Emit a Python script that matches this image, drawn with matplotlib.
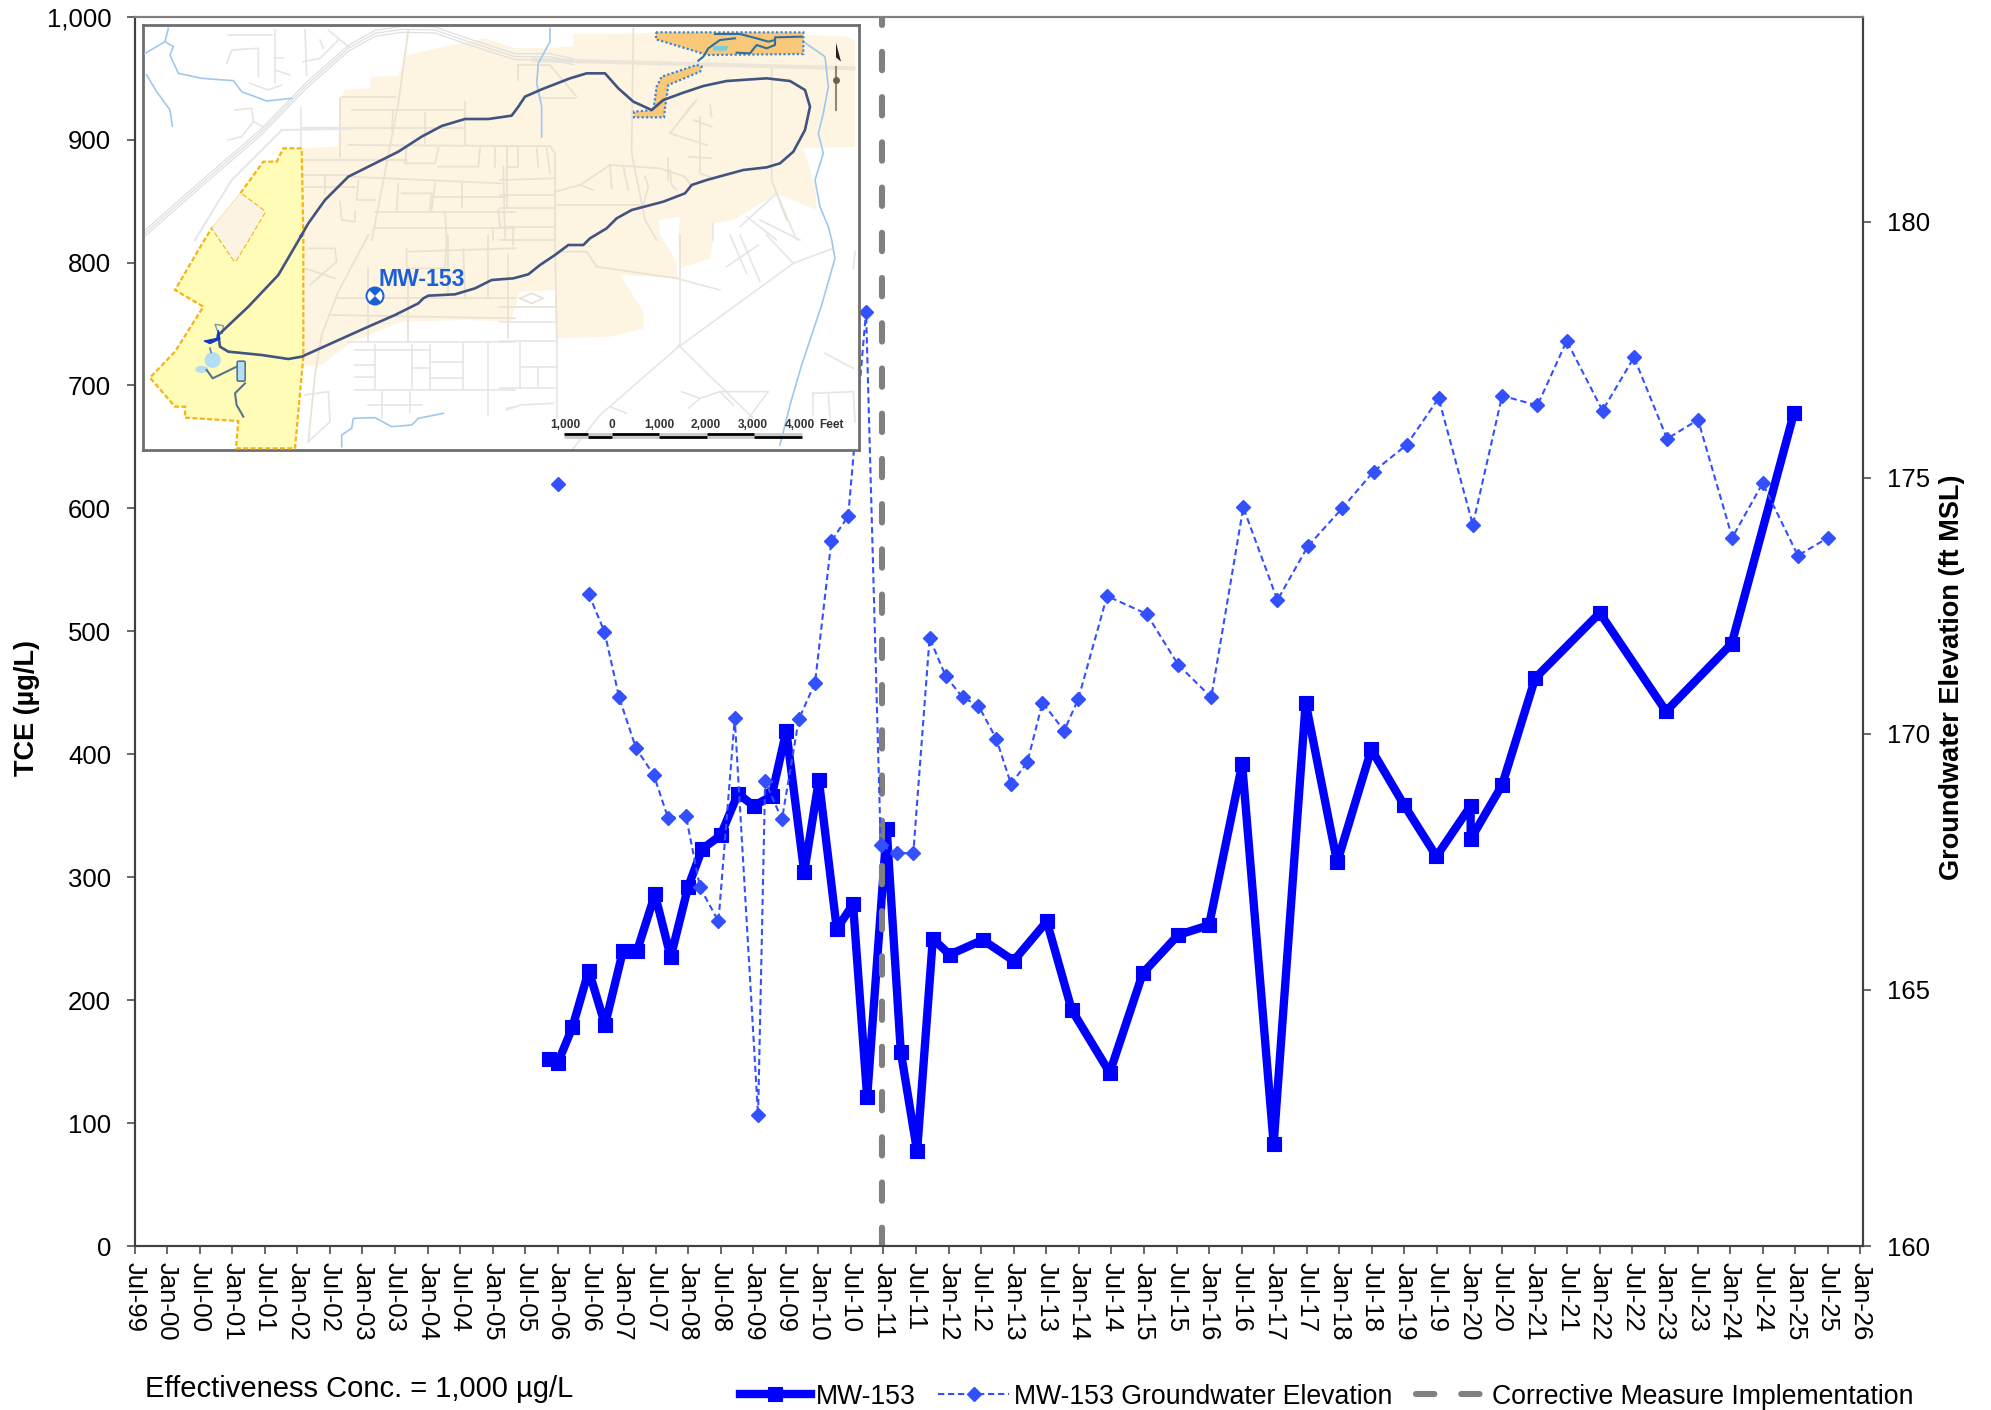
import matplotlib
matplotlib.use("Agg")
import matplotlib.pyplot as plt
from matplotlib.patches import Polygon, Ellipse, Wedge, Rectangle, FancyBboxPatch
from matplotlib.lines import Line2D

plt.rcParams['font.family'] = ['Liberation Sans', 'DejaVu Sans']

# ---------- chart data (x = months after Jul-1999) ----------
tce_months = [76.3, 78, 80.7, 83.7, 86.7, 90, 92.6, 95.9, 98.8, 102, 104.6, 108, 111.2, 114.1, 117.4,
              120.1, 123.4, 126.1, 129.4, 132.4, 135, 138.6, 141.2, 144.2, 147.1, 150.2, 156.3, 162, 168.1,
              172.7, 179.7, 185.8, 192.3, 198, 204.1, 209.9, 215.8, 221.6, 227.9, 233.9, 239.9,
              246.2, 246.2, 252, 258.1, 270, 282.2, 294.3, 305.8]
tce_values = [152, 149, 178, 224, 180, 240, 240, 286, 235, 292, 323, 334, 368, 358, 366,
              419, 304, 379, 258, 278, 121, 339, 158, 77, 250, 237, 249, 232, 264,
              192, 141, 222, 253, 261, 392, 83, 442, 312, 404, 359, 317,
              358, 331, 375, 462, 515, 435, 490, 678]

gw_solo_month = [78]
gw_solo_value = [174.88]
gw_months = [83.7, 86.6, 89.3, 92.4, 95.7, 98.3, 101.6, 104.2, 107.6, 110.6, 114.9, 116.2, 119.3, 122.4,
             125.4, 128.4, 131.5, 134.8, 137.5, 140.5, 143.5, 146.5, 149.5, 152.6, 155.5, 158.8, 161.5,
             164.5, 167.3, 171.3, 173.9, 179.2, 186.5, 192.3, 198.4, 204.3, 210.6, 216.2, 222.5, 228.3,
             234.4, 240.3, 246.6, 252, 258.5, 263.9, 270.5, 276.3, 282.4, 288.1, 294.4, 300,
             306.5, 312.1]
gw_values = [172.73, 171.99, 170.71, 169.72, 169.19, 168.36, 168.4, 167.0, 166.34, 170.3, 162.55, 169.07,
             168.33, 170.28, 171.0, 173.76, 174.25, 178.24, 167.82, 167.67, 167.67, 171.87, 171.12,
             170.71, 170.55, 169.9, 169.02, 169.44, 170.61, 170.06, 170.68, 172.69, 172.34, 171.35,
             170.71, 174.42, 172.61, 173.66, 174.4, 175.12, 175.64, 176.55, 174.08, 176.6, 176.41,
             177.67, 176.31, 177.35, 175.76, 176.13, 173.83, 174.89, 173.48, 173.83]

cmi_month = 137.7

x_tick_months = list(range(0, 319, 6))
x_tick_labels = ['Jul-99', 'Jan-00', 'Jul-00', 'Jan-01', 'Jul-01', 'Jan-02', 'Jul-02', 'Jan-03', 'Jul-03',
                 'Jan-04', 'Jul-04', 'Jan-05', 'Jul-05', 'Jan-06', 'Jul-06', 'Jan-07', 'Jul-07', 'Jan-08',
                 'Jul-08', 'Jan-09', 'Jul-09', 'Jan-10', 'Jul-10', 'Jan-11', 'Jul-11', 'Jan-12', 'Jul-12',
                 'Jan-13', 'Jul-13', 'Jan-14', 'Jul-14', 'Jan-15', 'Jul-15', 'Jan-16', 'Jul-16', 'Jan-17',
                 'Jul-17', 'Jan-18', 'Jul-18', 'Jan-19', 'Jul-19', 'Jan-20', 'Jul-20', 'Jan-21', 'Jul-21',
                 'Jan-22', 'Jul-22', 'Jan-23', 'Jul-23', 'Jan-24', 'Jul-24', 'Jan-25', 'Jul-25', 'Jan-26']
left_ticks = [0, 100, 200, 300, 400, 500, 600, 700, 800, 900, 1000]
left_labels = ['0', '100', '200', '300', '400', '500', '600', '700', '800', '900', '1,000']
right_ticks = [160, 165, 170, 175, 180]


# ---------- inset map geometry, traced per map quadrant ----------
def nw(p): return [(135 + x / 3, 20 + y / 3) for x, y in p]
def sw(p): return [(135 + x / 3, 235 + y / 3) for x, y in p]
def ne(p): return [(500 + x / 3, 20 + y / 3) for x, y in p]
def se(p): return [(500 + x / 3, 235 + y / 3) for x, y in p]


town_poly = (nw([(500, 385), (610, 380), (615, 235), (630, 210), (705, 205), (710, 170), (790, 168), (815, 105),
                 (1050, 55), (1140, 85)])
             + ne([(150, 85), (220, 78), (220, 42), (470, 40), (910, 45), (1040, 50), (1065, 60), (1065, 380),
                   (910, 385), (945, 500), (950, 570), (830, 520), (700, 600), (640, 610), (640, 655)])
             + se([(630, 70), (540, 100), (535, 15)])
             + ne([(540, 590), (475, 600)])
             + se([(480, 0), (530, 80), (530, 130), (360, 120), (430, 230), (430, 280), (330, 305), (170, 310),
                   (170, 165), (60, 170), (30, 260)])
             + sw([(1000, 255), (800, 260), (650, 320), (560, 390), (510, 392), (500, 365)]))
yellow_poly = (nw([(500, 385), (445, 385), (425, 425), (385, 425), (316, 520), (390, 575), (340, 660)])
               + sw([(300, 80)])
               + nw([(231, 624), (208, 660)])
               + sw([(120, 165), (205, 215), (120, 350), (45, 428), (120, 515), (150, 515), (150, 548), (310, 558),
                     (303, 640), (480, 640), (505, 365), (505, 0)]))
yellow_hole = (nw([(316, 520), (390, 575), (340, 660)]) + sw([(300, 80)]) + nw([(231, 624)]))
top_site = ne([(468, 37), (910, 37), (910, 102), (620, 105), (590, 95), (468, 58)])
strip_site = ne([(590, 135), (605, 140), (600, 155), (505, 195), (495, 265), (492, 292), (402, 292), (402, 275),
                 (460, 270), (470, 200), (485, 170)])
plume = (sw([(250, 300), (340, 215), (430, 120), (500, 0)])
         + nw([(497, 650), (520, 610), (570, 540), (640, 470), (720, 430), (790, 395), (860, 350), (920, 318),
               (990, 297), (1060, 297), (1130, 287)])
         + ne([(35, 287), (55, 260), (75, 230), (125, 208), (210, 175), (260, 160), (315, 160), (355, 205),
               (400, 245), (455, 270), (490, 240), (550, 218), (610, 198), (680, 183), (800, 175), (870, 183),
               (915, 210), (930, 260), (915, 330), (880, 395), (840, 430), (800, 442), (730, 450), (620, 480),
               (575, 495), (555, 520), (490, 545), (395, 570), (350, 595), (320, 625), (270, 655)])
         + se([(250, 30), (205, 30), (165, 60), (120, 90), (85, 118), (40, 130)])
         + sw([(1070, 135), (1020, 160), (960, 178), (880, 182), (865, 190), (850, 205), (780, 240), (700, 275),
               (600, 320), (500, 365), (460, 372), (380, 360), (280, 350), (255, 335), (250, 300)]))
creeks = [
    nw([(100, 25), (90, 65), (30, 100)]),
    nw([(90, 65), (115, 80), (105, 105), (130, 160), (200, 175), (295, 182), (320, 215), (395, 243), (470, 235)]),
    nw([(35, 165), (65, 215), (105, 270), (112, 318)]),
    ne([(150, 25), (150, 65), (115, 130), (110, 190), (125, 260), (125, 350)]),
    ne([(910, 65), (975, 110), (985, 200), (970, 280), (955, 340), (970, 400), (945, 480), (960, 560), (985, 620),
        (995, 660)]) + se([(1005, 70), (965, 210), (905, 390), (870, 510), (840, 630)]),
    sw([(620, 635), (620, 600), (650, 580), (655, 550), (720, 548), (770, 575), (830, 570), (850, 550), (925, 535)]),
]
site_streams = [
    ne([(595, 122), (610, 110), (625, 85), (660, 60), (705, 55)]),
    ne([(710, 98), (750, 100), (770, 75), (800, 85), (825, 75), (825, 52), (905, 50)]),
    ne([(645, 42), (720, 42), (770, 55), (805, 65), (825, 60)]),
]
site_pond = ne([(640, 78), (685, 78), (680, 92), (640, 92)])
pond_stream = sw([(225, 340), (228, 352)]) + sw([(215, 405), (233, 430), (305, 395), (318, 385)])
pond_stream_2 = sw([(330, 445), (300, 475), (305, 510), (325, 545)])
loop_line = sw([(250, 295), (240, 268), (265, 272), (262, 295)])
plume_source = sw([(207, 318), (245, 310), (250, 285), (255, 312), (225, 326)])
railway = nw([(30, 640), (200, 490), (380, 335), (510, 200), (640, 85), (720, 40), (800, 28), (900, 30), (1000, 65),
              (1140, 110)]) + ne([(150, 110), (220, 125)])
side_road = nw([(180, 660), (290, 480), (440, 330), (650, 326)])
main_band = ne([(100, 120), (1060, 145)])

white_streets = [
    nw(s) for s in [
        [(280, 45), (410, 45)], [(420, 30), (420, 190)], [(275, 130), (290, 90), (370, 85), (370, 170)],
        [(345, 190), (400, 210), (440, 195)], [(420, 115), (445, 115)], [(420, 150), (465, 165)],
        [(510, 30), (515, 165)], [(505, 125), (555, 115), (610, 60)], [(580, 30), (640, 80)], [(555, 60), (565, 85)],
        [(300, 270), (350, 265), (355, 305), (385, 320)], [(355, 305), (320, 350), (280, 360)],
        [(497, 265), (497, 385)],
    ]
] + [
    sw(s) for s in [
        [(640, 320), (1140, 320)], [(660, 345), (880, 345)], [(660, 465), (1140, 465)], [(720, 330), (720, 460)],
        [(830, 330), (830, 460)], [(885, 330), (885, 460)], [(985, 320), (985, 465)], [(1060, 320), (1060, 540)],
        [(660, 390), (720, 390)], [(660, 425), (720, 425)], [(830, 400), (885, 400)], [(885, 380), (985, 380)],
        [(885, 430), (985, 430)], [(740, 470), (740, 550)], [(825, 470), (825, 530)], [(700, 510), (860, 510)],
        [(510, 480), (580, 470), (585, 560), (520, 620)], [(1115, 520), (1140, 515)],
    ]
] + [
    se(s) for s in [
        [(0, 260), (165, 260)], [(0, 318), (165, 318)], [(60, 320), (60, 460)], [(0, 460), (165, 460)],
        [(65, 395), (170, 395)], [(115, 395), (115, 460)], [(170, 310), (170, 550)], [(20, 525), (60, 510), (160, 505)],
        [(540, 130), (540, 325), (530, 340)], [(220, 640), (300, 540), (530, 340), (880, 85), (1000, 40)],
        [(540, 335), (760, 550)], [(680, 95), (775, 30)], [(740, 115), (690, 0)], [(780, 140), (720, 0)],
        [(880, 85), (800, 0)], [(1065, 50), (1060, 100)], [(975, 355), (1060, 400)],
        [(940, 475), (1060, 470), (1065, 560)], [(940, 475), (940, 540)], [(985, 480), (990, 550)],
        [(545, 470), (600, 490), (565, 520)], [(600, 490), (660, 470), (805, 470), (745, 550)], [(660, 470), (700, 510)],
        [(330, 515), (380, 535)], [(530, 130), (660, 165)],
    ]
] + [
    ne(s) for s in [[(720, 620), (830, 520)], [(740, 590), (830, 660)], [(640, 610), (640, 660)],
                    [(780, 600), (900, 660)], [(830, 520), (890, 660)]]
]
tan_streets = [
    nw(s) for s in [
        [(820, 30), (790, 250), (730, 560), (710, 660)], [(620, 230), (780, 230)], [(650, 270), (990, 270)],
        [(500, 325), (990, 325)], [(615, 235), (615, 410)], [(775, 270), (770, 330)], [(870, 280), (870, 370)],
        [(990, 245), (990, 375)], [(640, 375), (1140, 378)], [(505, 420), (815, 420)],
        [(815, 380), (810, 430), (900, 430), (910, 385)], [(910, 440), (1030, 440), (1035, 385)],
        [(1080, 385), (1080, 440)], [(1115, 380), (1115, 560)], [(500, 465), (640, 465)], [(510, 500), (660, 500)],
        [(570, 465), (570, 520)], [(640, 470), (1100, 490)], [(790, 490), (785, 570)],
        [(670, 480), (665, 540), (720, 540)], [(800, 520), (890, 520), (885, 570)], [(900, 490), (890, 570)],
        [(980, 490), (980, 560)], [(890, 530), (1115, 530)], [(615, 545), (620, 600), (660, 605), (660, 575)],
        [(720, 575), (1140, 575)], [(930, 575), (935, 660)], [(1090, 570), (1095, 620)], [(720, 625), (1140, 625)],
        [(1075, 625), (1075, 660)],
    ]
] + [
    sw(s) for s in [
        [(700, 0), (610, 170), (560, 300), (540, 420), (520, 620)], [(520, 40), (600, 40), (605, 80), (525, 150)],
        [(815, 40), (815, 100), (930, 100), (935, 0)], [(820, 50), (1140, 40)], [(985, 40), (990, 190)],
        [(1060, 0), (1060, 190)], [(510, 100), (600, 130)], [(610, 190), (1140, 190)], [(590, 240), (1140, 250)],
        [(700, 100), (700, 320)], [(820, 100), (820, 320)], [(940, 0), (940, 180)],
    ]
] + [
    ne(s) for s in [
        [(400, 25), (395, 400), (435, 600), (470, 660)], [(55, 135), (55, 180)], [(55, 135), (150, 135), (230, 230)],
        [(120, 235), (225, 235)], [(0, 378), (150, 378), (165, 400), (165, 660)], [(20, 378), (20, 440), (55, 440), (55, 378)],
        [(110, 385), (115, 440)], [(140, 385), (150, 460)], [(0, 480), (165, 475)], [(10, 440), (15, 660)],
        [(0, 525), (165, 525)], [(0, 565), (165, 565)], [(0, 620), (165, 620)], [(40, 620), (40, 660)],
        [(165, 515), (240, 495), (330, 435), (480, 445), (555, 470), (575, 500)], [(330, 435), (335, 505)],
        [(370, 440), (385, 510)], [(240, 495), (280, 510)], [(170, 555), (430, 555), (445, 500), (435, 470)],
        [(510, 450), (515, 495), (530, 510)], [(510, 340), (590, 240)], [(540, 300), (580, 250)], [(510, 340), (620, 375)],
        [(580, 300), (635, 320)], [(600, 290), (600, 460), (640, 475)], [(565, 410), (635, 415)], [(505, 415), (505, 480)],
        [(630, 255), (635, 290)], [(815, 140), (815, 480), (860, 600)],
    ]
] + [
    se(s) for s in [
        [(165, 0), (170, 310)], [(0, 15), (165, 15)], [(40, 0), (40, 30)], [(165, 50), (260, 50), (290, 95), (530, 130)],
        [(60, 190), (95, 175), (130, 190), (95, 205), (60, 190)], [(0, 215), (165, 215)], [(25, 60), (25, 310)],
        [(540, 0), (540, 130)],
    ]
]

scale_text = ['1,000', '0', '1,000', '2,000', '3,000', '4,000', 'Feet']
scale_text_pos = se([(195, 570), (335, 570), (478, 570), (618, 570), (760, 570), (900, 570), (993, 570)])
scale_top = [se([(193, 597), (265, 597)]), se([(337, 597), (478, 597)]), se([(620, 597), (762, 597)])]
scale_low = [se([(265, 606), (337, 606)]), se([(478, 606), (620, 606)]), se([(762, 606), (905, 606)])]
north_shaft = ne([(1008, 140), (1008, 270)])
north_head = ne([(1008, 68), (1023, 125), (1008, 112)])
north_dot = ne([(1008, 180)])
well_xy = sw([(720, 183)])[0]
well_label_xy = sw([(730, 135)])[0]

# ---------- figure ----------
W, H = 1991, 1410
fig = plt.figure(figsize=(W / 100, H / 100), dpi=100, facecolor='white')
L, R, T, B = 134.5, 1863.3, 16.7, 1246
ax = fig.add_axes([L / W, 1 - B / H, (R - L) / W, (B - T) / H])
ax2 = ax.twinx()
ax.set_zorder(1)
ax2.set_zorder(2)
ax2.patch.set_visible(False)

TCE = '#0000FF'
GW = '#3350FF'
GR = '#808080'
DK = '#404040'

ax.plot(tce_months, tce_values, color=TCE, lw=6.0, marker='s', ms=10, mew=0.8, solid_joinstyle='round', zorder=3)
ax.plot([cmi_month, cmi_month], [0, 1000], color=GR, lw=4.4, dashes=(3.0, 4.4), dash_capstyle='round', zorder=4)
gw_style = dict(color=GW, lw=1.5, ls=(0, (3.0, 1.8)), marker='D', ms=7.2, mec=GW, zorder=5)
ax2.plot(gw_months, gw_values, **gw_style)
ax2.plot(gw_solo_month, gw_solo_value, **gw_style)

ax.set_xlim(0, 318.55)
ax.set_ylim(0, 1000)
ax2.set_ylim(160, 184)
ax.set_xticks(x_tick_months)
ax.set_xticklabels(x_tick_labels, rotation=-90, ha='center', va='top', fontsize=18.5)
ax.set_yticks(left_ticks)
ax.set_yticklabels(left_labels, fontsize=18.5)
ax2.set_yticks(right_ticks)
ax2.set_yticklabels([str(v) for v in right_ticks], fontsize=18.5)
ax.tick_params(axis='x', length=5.8, width=1.1, color=DK, pad=5.5)
ax.tick_params(axis='y', length=5.8, width=1.1, color=DK, pad=11)
ax2.tick_params(axis='y', length=5.8, width=1.1, color=DK, pad=11)
for a in (ax, ax2):
    for side in ('left', 'right', 'bottom'):
        a.spines[side].set_color(DK)
        a.spines[side].set_linewidth(1.5)
    a.spines['top'].set_color(GR)
    a.spines['top'].set_linewidth(1.5)

fig.text(27 / W, 1 - 708 / H, 'TCE (µg/L)', rotation=90, ha='center', va='center', fontsize=19.5, fontweight='bold')
fig.text(1952 / W, 1 - 677 / H, 'Groundwater Elevation (ft MSL)', rotation=90, ha='center', va='center',
         fontsize=19.5, fontweight='bold')
fig.text(145 / W, 1 - 1389 / H, 'Effectiveness Conc. = 1,000 µg/L', ha='left', va='center', fontsize=21)

handles = [
    Line2D([], [], color=TCE, lw=6.0, marker='s', ms=10, mew=0.8),
    Line2D([], [], color=GW, lw=1.5, ls=(0, (3.0, 1.8)), marker='D', ms=7.2),
    Line2D([], [], color=GR, lw=4.4, dashes=(3.0, 4.4), dash_capstyle='round'),
]
fig.legend(handles, ['MW-153', 'MW-153 Groundwater Elevation', 'Corrective Measure Implementation'],
           loc='center right', bbox_to_anchor=(1913 / W, 1 - 1396.5 / H), ncol=3, frameon=False, fontsize=19.2,
           handlelength=2.65, handletextpad=0.2, columnspacing=0.85, borderpad=0, borderaxespad=0)

# ---------- inset map ----------
m = fig.add_axes([142.7 / W, 1 - 450 / H, (858.5 - 142.7) / W, (450 - 25) / H], zorder=6)
m.set_xlim(142.7, 858.5)
m.set_ylim(450, 25)
m.set_xticks([])
m.set_yticks([])
for s in m.spines.values():
    s.set_color('#6E6E6E')
    s.set_linewidth(2.0)


def pl(points, **kw):
    m.plot([p[0] for p in points], [p[1] for p in points], **kw)


ORANGE = '#F6B414'
m.add_patch(Polygon(town_poly, closed=True, fc='#FDF4E1', ec='none', zorder=1))
for seg in white_streets:
    pl(seg, color='#E6E6E6', lw=1.2, zorder=2)
for seg in tan_streets:
    pl(seg, color='#E9E2D4', lw=1.25, zorder=2)
pl(main_band, color='#EDE6D8', lw=3.0, zorder=2)
for off in (-3, 0, 3):
    pl([(x, y + off) for x, y in railway], color='#E0E0E0', lw=0.9, zorder=2)
pl(side_road, color='#E8E8EC', lw=1.5, zorder=2)
m.add_patch(Polygon(yellow_hole, closed=True, fc='#FBF3E4', ec='#F6C860', lw=0.6, zorder=3))
m.add_patch(Polygon(yellow_poly, closed=True, fc='#FFFCB8', ec=ORANGE, lw=1.6, ls=(0, (2.2, 1.1)), zorder=3))
m.add_patch(Polygon(yellow_hole, closed=True, fc='#FBF3E4', ec='none', zorder=3.1))
for c in creeks:
    pl(c, color='#9FC8EE', lw=1.2, zorder=3)
for poly in (top_site, strip_site):
    m.add_patch(Polygon(poly, closed=True, fc='#F9C878', ec='#3F86D6', lw=1.6, ls=(0, (1.0, 1.0)), zorder=4))
m.add_patch(Polygon(site_pond, closed=True, fc='#7FCBD6', ec='none', zorder=4.5))
for c in site_streams:
    pl(c, color='#2F6E9E', lw=1.5, zorder=5)

# plume source area: ponds and streams
m.add_patch(Ellipse(sw([(233, 375)])[0], 16, 16, fc='#B3DEF5', ec='none', zorder=4))
m.add_patch(Ellipse(sw([(200, 403)])[0], 13, 7, fc='#B3DEF5', ec='none', zorder=4))
pl(pond_stream[:2], color='#6A8BA5', lw=1.3, zorder=4)
pl(pond_stream[2:], color='#54758F', lw=1.5, zorder=4)
pl(pond_stream_2, color='#54758F', lw=1.5, zorder=4)
pl(loop_line, color='#7E9AB0', lw=1.0, zorder=4)
oval_xy = sw([(311, 383)])[0]
m.add_patch(FancyBboxPatch(oval_xy, 5, 17, boxstyle='round,pad=1.5', fc='#B3DEF5', ec='#54758F', lw=1.2, zorder=4))
m.add_patch(Polygon(plume_source, closed=True, fc='#1038C8', ec='#1038C8', lw=0.8, zorder=6))
pl(plume, color='#41537F', lw=1.9, zorder=5)

# well symbol and label
BLUE = '#1A5FD5'
m.add_patch(Ellipse(well_xy, 17, 17, fc='white', ec=BLUE, lw=1.4, zorder=7))
m.add_patch(Wedge(well_xy, 8.5, 225, 315, fc=BLUE, ec='none', zorder=7.1))
m.add_patch(Wedge(well_xy, 8.5, 45, 135, fc=BLUE, ec='none', zorder=7.1))
m.text(well_label_xy[0], well_label_xy[1], 'MW-153', color=BLUE, fontsize=16.6, fontweight='bold', ha='left',
       va='center', zorder=8)

# scale bar
for seg in scale_low:
    pl(seg, color='black', lw=2.0, solid_capstyle='butt', zorder=7)
    pl([(x, y - 3) for x, y in seg], color='#C8C8C8', lw=2.0, solid_capstyle='butt', zorder=6.5)
for seg in scale_top:
    pl(seg, color='black', lw=2.0, solid_capstyle='butt', zorder=7)
    pl([(x, y + 3) for x, y in seg], color='#C8C8C8', lw=2.0, solid_capstyle='butt', zorder=6.5)
for (xp, yp), lab in zip(scale_text_pos, scale_text):
    m.text(xp, yp, lab, fontsize=8.6, fontweight='bold', color='#333333', ha='center', va='center', zorder=8)

# north arrow
pl(north_shaft, color='#8E8878', lw=1.5, zorder=7)
m.add_patch(Polygon(north_head, closed=True, fc='#222222', ec='none', zorder=7))
pl(north_dot, color='#6A6458', marker='o', ms=4, ls='none', zorder=7)

fig.savefig('out.png', dpi=100, facecolor='white')
